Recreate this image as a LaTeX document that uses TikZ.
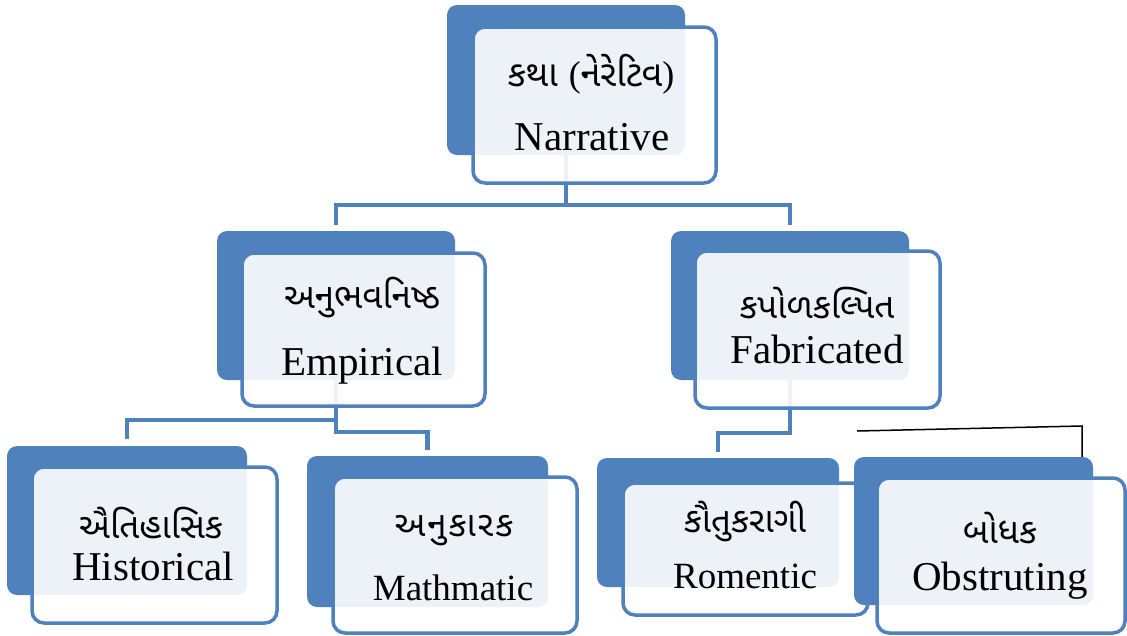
\documentclass[tikz,border=0pt]{standalone}
\usepackage{fontspec}
\setmainfont{Liberation Serif}
\newfontfamily\gujfont[Script=Gujarati]{Noto Sans Gujarati UI}
\usetikzlibrary{fit,backgrounds}
\definecolor{ablue}{HTML}{4F81BD}
\tikzset{
  backbox/.style={fill=ablue, rounded corners=10pt, inner sep=0pt, outer sep=0pt},
  frontbox/.style={draw=ablue, line width=3.5pt, fill=white, fill opacity=0.9, rounded corners=12pt, inner sep=0pt, outer sep=0pt},
  conn/.style={draw=ablue, line width=4.5pt},
  thin/.style={draw=black, line width=1.5pt},
  guj/.style={font=\gujfont\fontsize{35}{40}\selectfont, anchor=base, inner sep=0pt},
  gujl/.style={font=\gujfont\fontsize{36}{40}\selectfont, anchor=base, inner sep=0pt},
  eng/.style={font=\fontsize{41}{48}\selectfont, anchor=base, inner sep=0pt},
  engs/.style={font=\fontsize{37}{44}\selectfont, anchor=base, inner sep=0pt},
}
\newcommand\duo[9]{%
  \node[backbox, fit={(#2,#3) (#4,#5)}] (#1B) {};
  \node[frontbox, fit={(#6,#7) (#8,#9)}] (#1F) {};
}
\begin{document}
\begin{tikzpicture}[x=1pt,y=-1pt]
\useasboundingbox (0,0) rectangle (1127,635);
% boxes
\duo{nar}{447}{5}{685}{155}{473}{27}{716}{183}
\duo{emp}{217}{231}{455}{380}{242}{253}{485}{406}
\duo{fab}{671}{231}{909}{380}{695}{251}{940}{408}
\duo{his}{7}{446}{247}{595}{32}{467}{277}{623}
\duo{mat}{307}{456}{548}{607}{333}{477}{577}{633}
\duo{rom}{597}{458}{839}{587}{623}{483}{868}{615}
\duo{obs}{854}{457}{1093}{605}{877}{478}{1125}{633}
% texts
\node[gujl] (narG) at (591,86) {કથા \normalfont(\gujfont નેરેટિવ\normalfont)};
\node[eng] (narE) at (592,150) {Narrative};
\node[guj] (empG) at (362,308) {અનુભવનિષ્ઠ};
\node[eng] (empE) at (362,375) {Empirical};
\node[guj] (fabG) at (817,318) {કપોળકલ્પિત};
\node[eng] (fabE) at (817,363) {Fabricated};
\node[guj] (hisG) at (151,538) {ઐતિહાસિક};
\node[eng] (hisE) at (153,580) {Historical};
\node[guj] (matG) at (454,536) {અ\hspace{2pt}નુ\hspace{2pt}કા\hspace{2pt}ર\hspace{2pt}ક};
\node[engs] (matE) at (453,600) {Mathmatic};
\node[guj] (romG) at (745,532) {કૌતુકરાગી};
\node[engs] (romE) at (745,588) {Romentic};
\node[guj] (obsG) at (1000,543) {બોધક};
\node[eng] (obsE) at (1000,590) {Obstruting};
% connectors
\coordinate (bus1) at (0,205);
\coordinate (bus2) at (0,420);
\coordinate (bus3) at (0,432);
\coordinate (bus4) at (0,433);
\coordinate (bl1) at (857,431);
\coordinate (bl2) at (1082,426);
\begin{pgfonlayer}{background}
\draw[conn] (narB.south) -- (narB.south |- bus1);
\draw[conn] ([yshift=6pt]empB.north) -- (empB.north |- bus1) -- (fabB.north |- bus1) -- ([yshift=6pt]fabB.north);
\draw[conn] (empB.south) -- (empB.south |- bus3) -- (matB.north |- bus3) -- ([yshift=6pt]matB.north);
\draw[conn] (empB.south |- bus2) -- (hisB.north |- bus2) -- ([yshift=7pt]hisB.north);
\draw[conn] (fabB.south) -- (fabB.south |- bus4) -- (romB.north |- bus4) -- ([yshift=6pt]romB.north);
\draw[thin] (bl1) -- (bl2) -- (bl2 |- obsB.north);
\end{pgfonlayer}
\end{tikzpicture}
\end{document}
